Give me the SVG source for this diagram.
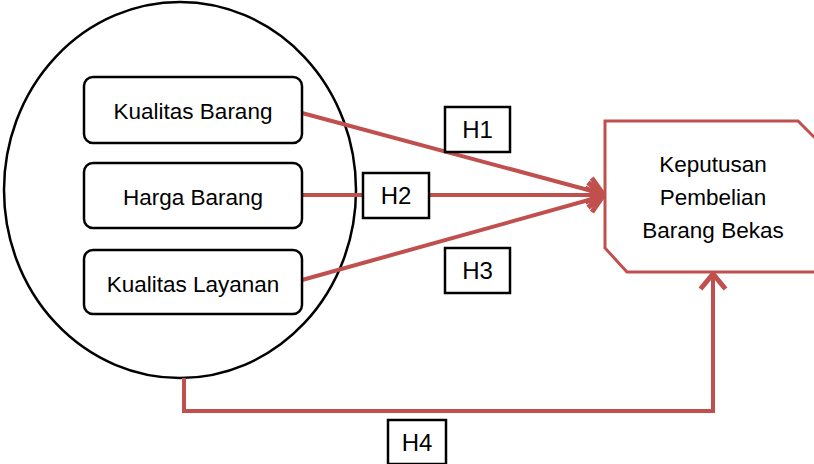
<svg xmlns="http://www.w3.org/2000/svg" width="814" height="464" viewBox="0 0 814 464">
<style>
.t{font-family:"Liberation Sans",Arial,sans-serif;font-size:22.5px;fill:#000;text-anchor:middle}
.h{font-size:24px}
.box{fill:#fff;stroke:#000;stroke-width:2.5}
.hb{fill:#fff;stroke:#000;stroke-width:2.5}
.c{fill:none;stroke:#C0504D;stroke-width:4}
</style>
<defs>
<marker id="ah" markerUnits="userSpaceOnUse" markerWidth="30" markerHeight="30" refX="20" refY="12" orient="auto" viewBox="0 0 24 24">
<path d="M8,2 L20,12 L8,22" fill="none" stroke="#C0504D" stroke-width="4"/>
</marker>
</defs>
<rect width="814" height="464" fill="#fff"/>
<g id="group">
<ellipse cx="180" cy="190" rx="176" ry="188" fill="#fff" stroke="#000" stroke-width="2.5"/>
</g>
<g id="connectors">
<line class="c" x1="302" y1="113" x2="603" y2="194" marker-end="url(#ah)"/>
<line class="c" x1="302" y1="195" x2="603" y2="195" marker-end="url(#ah)"/>
<line class="c" x1="302" y1="280" x2="603" y2="196" marker-end="url(#ah)"/>
<polyline class="c" points="184,378 184,411 713,411 713,274" marker-end="url(#ah)"/>
</g>
<g id="n1"><rect class="box" x="84" y="77" width="218" height="66" rx="9"/><text class="t" x="193" y="119">Kualitas Barang</text></g>
<g id="n2"><rect class="box" x="84" y="163" width="218" height="65" rx="9"/><text class="t" x="193" y="205">Harga Barang</text></g>
<g id="n3"><rect class="box" x="84" y="250" width="218" height="64" rx="9"/><text class="t" x="193" y="292">Kualitas Layanan</text></g>
<g id="target">
<polygon points="605,121 798,121 822,145 822,272 627,272 605,248" fill="#fff" stroke="#C0504D" stroke-width="3"/>
<text class="t" x="713" y="172">Keputusan</text>
<text class="t" x="713" y="205">Pembelian</text>
<text class="t" x="713" y="238">Barang Bekas</text>
</g>
<g id="h1"><rect class="hb" x="445" y="107" width="65" height="45"/><text class="t h" x="477.5" y="138">H1</text></g>
<g id="h2"><rect class="hb" x="363" y="173" width="66" height="45"/><text class="t h" x="396" y="204">H2</text></g>
<g id="h3"><rect class="hb" x="445" y="248" width="65" height="45"/><text class="t h" x="477.5" y="279">H3</text></g>
<g id="h4"><rect class="hb" x="388" y="420" width="58" height="44"/><text class="t h" x="417" y="451">H4</text></g>
</svg>
